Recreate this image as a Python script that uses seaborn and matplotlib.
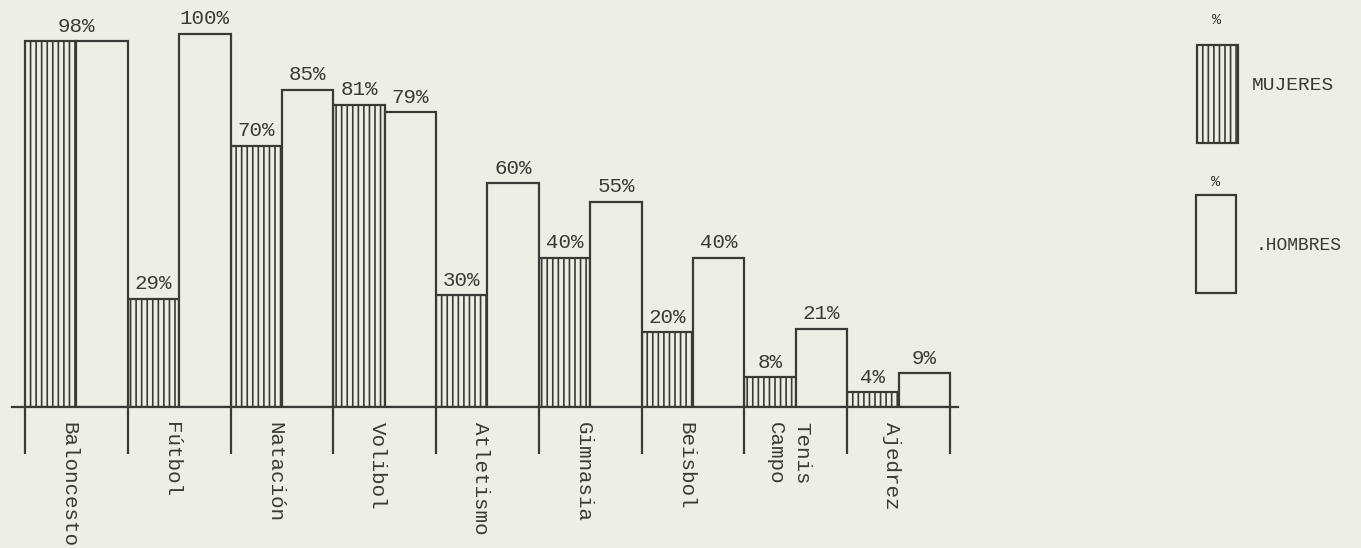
import pandas as pd
import matplotlib.pyplot as plt
from matplotlib.patches import Rectangle
import seaborn as sns

# Datos (porcentaje que practica cada deporte)
deportes = ['Baloncesto', 'Fútbol', 'Natación', 'Volibol', 'Atletismo',
            'Gimnasia', 'Beisbol', 'Tenis\nCampo', 'Ajedrez']
mujeres = [98, 29, 70, 81, 30, 40, 20, 8, 4]
hombres = [98, 100, 85, 79, 60, 55, 40, 21, 9]
# el par de Baloncesto lleva una sola etiqueta
etiq_mujeres = ['98%', '29%', '70%', '81%', '30%', '40%', '20%', '8%', '4%']
etiq_hombres = ['', '100%', '85%', '79%', '60%', '55%', '40%', '21%', '9%']

df = pd.DataFrame({
    'deporte': deportes * 2,
    'sexo': ['Mujeres'] * len(deportes) + ['Hombres'] * len(deportes),
    'valor': mujeres + hombres,
})

fondo = '#EDEEE6'
tinta = '#3A3A36'

sns.set_style('white')
plt.rcParams['font.family'] = ['Liberation Mono', 'DejaVu Sans Mono']
plt.rcParams['hatch.linewidth'] = 1.2
plt.rcParams['hatch.color'] = tinta

W, H = 1361, 548
fig = plt.figure(figsize=(W / 100, H / 100), dpi=100, facecolor=fondo)
ax = fig.add_axes([12 / W, 141 / H, 946 / W, 407 / H])
ax.set_facecolor('none')

sns.barplot(data=df, x='deporte', y='valor', hue='sexo',
            hue_order=['Mujeres', 'Hombres'],
            palette={'Mujeres': fondo, 'Hombres': fondo},
            width=1.0, saturation=1, edgecolor=tinta, linewidth=1.6,
            legend=False, ax=ax)

for barra in ax.containers[0]:
    barra.set_hatch('|||')

# etiquetas de porcentaje sobre las barras
for i, (bm, bh) in enumerate(zip(ax.containers[0], ax.containers[1])):
    xm = bm.get_x() + bm.get_width() / 2
    xh = bh.get_x() + bh.get_width() / 2
    if etiq_hombres[i] == '':
        xm = i
    ax.annotate(etiq_mujeres[i], (xm, bm.get_height()), xytext=(0, 4),
                textcoords='offset points', ha='center', va='bottom',
                fontsize=15, color=tinta)
    if etiq_hombres[i]:
        ax.annotate(etiq_hombres[i], (xh, bh.get_height()), xytext=(0, 4),
                    textcoords='offset points', ha='center', va='bottom',
                    fontsize=15, color=tinta)

ax.set_xlim(-0.626, 8.578)
ax.set_ylim(0, 109.1)
for s in ['top', 'right', 'left']:
    ax.spines[s].set_visible(False)
ax.spines['bottom'].set_color(tinta)
ax.spines['bottom'].set_linewidth(1.6)
ax.set_yticks([])
ax.set_xlabel('')
ax.set_ylabel('')

ax.set_xticks([i - 0.07 for i in range(len(deportes))])
ax.set_xticklabels(deportes, rotation=270, fontsize=15, color=tinta,
                   linespacing=1.5)
ax.set_xticks([i - 0.5 for i in range(len(deportes) + 1)], minor=True)
ax.tick_params(axis='x', which='major', bottom=False, length=0, pad=11)
ax.tick_params(axis='x', which='minor', bottom=True, length=34, width=1.6,
               color=tinta, direction='out')

# leyenda dibujada a mano
fig.add_artist(Rectangle((1197 / W, 1 - 143 / H), 41 / W, 98 / H,
                         transform=fig.transFigure, facecolor=fondo,
                         edgecolor=tinta, hatch='|||', lw=1.6))
fig.add_artist(Rectangle((1196 / W, 1 - 293 / H), 40 / W, 98 / H,
                         transform=fig.transFigure, facecolor=fondo,
                         edgecolor=tinta, lw=1.6))
fig.text(1217 / W, 1 - 20 / H, '%', ha='center', va='center',
         fontsize=11, color=tinta)
fig.text(1216 / W, 1 - 182 / H, '%', ha='center', va='center',
         fontsize=11, color=tinta)
fig.text(1252 / W, 1 - 85 / H, 'MUJERES', ha='left', va='center',
         fontsize=14, color=tinta)
fig.text(1256 / W, 1 - 245 / H, '.HOMBRES', ha='left', va='center',
         fontsize=13, color=tinta)

fig.savefig('out.png', dpi=100, facecolor=fondo)
